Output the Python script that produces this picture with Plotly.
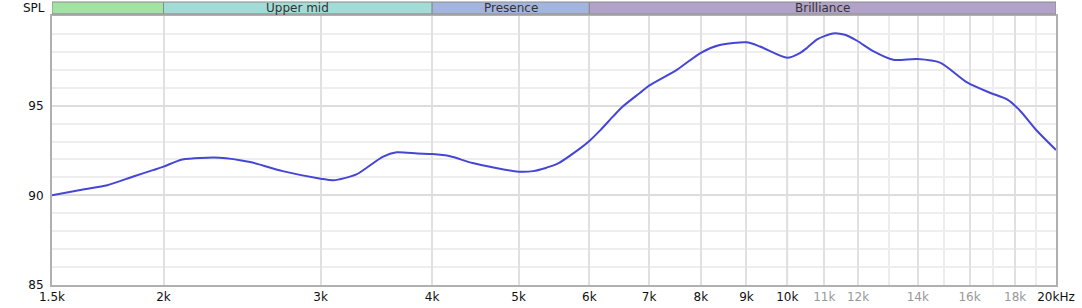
import numpy as np
import plotly.graph_objects as go

# Frequency response data (Hz, dB SPL)
freq = [1500, 1625, 1730, 1850, 1950, 2000, 2100, 2310, 2500, 2720, 3000, 3100,
        3290, 3520, 3650, 3850, 4000, 4190, 4440, 5000, 5190, 5520, 5860, 6000,
        6170, 6380, 6540, 6840, 7000, 7520, 8000, 8400, 9000, 9320, 10000, 10340,
        10520, 10800, 11250, 11600, 11970, 12480, 13140, 13980, 14830, 15900, 16870, 17630,
        18230, 19040, 20000]
spl = [90.0, 90.32, 90.56, 91.05, 91.42, 91.6, 92.0, 92.1, 91.86, 91.35, 90.93, 90.84,
       91.17, 92.15, 92.4, 92.33, 92.3, 92.18, 91.8, 91.32, 91.35, 91.75, 92.62, 93.03,
       93.62, 94.4, 94.95, 95.72, 96.12, 97.0, 97.95, 98.38, 98.53, 98.3, 97.67, 97.95,
       98.22, 98.7, 99.03, 98.95, 98.62, 98.04, 97.56, 97.6, 97.4, 96.3, 95.72, 95.35,
       94.72, 93.6, 92.53]

# Axis ticks
x_tickvals = [1500, 2000, 3000, 4000, 5000, 6000, 7000, 8000, 9000, 10000,
              11000, 12000, 14000, 16000, 18000, 20000]
x_ticktext = ["1.5k", "2k", "3k", "4k", "5k", "6k", "7k", "8k", "9k", "10k",
              "11k", "12k", "14k", "16k", "18k", "20kHz"]
x_gray_labels = ["11k", "12k", "14k", "16k", "18k"]
x_minor = [13000, 15000, 17000, 19000]
y_tickvals = [85, 90, 95]

# Frequency bands
band_names = ["", "Upper mid", "Presence", "Brilliance"]
band_lo = [1500, 2000, 4000, 6000]
band_hi = [2000, 4000, 6000, 20000]
band_colors = ["#a2e2a4", "#a3dcd6", "#a3b5de", "#b2a1c9"]

ticktext = [f"<span style='color:#999999'>{t}</span>" if t in x_gray_labels else t
            for t in x_ticktext]

fig = go.Figure()
fig.add_trace(go.Scatter(x=freq, y=spl, mode="lines",
                         line=dict(color="#4646d6", width=2, shape="spline", smoothing=0.7),
                         hoverinfo="skip", showlegend=False))

# 10k highlighted grid line
fig.add_shape(type="line", xref="x", yref="paper", x0=10000, x1=10000, y0=0, y1=1,
              line=dict(color="#bbbbbb", width=1.5), layer="below")

# Band strip
for name, lo, hi, col in zip(band_names, band_lo, band_hi, band_colors):
    fig.add_shape(type="rect", xref="x", yref="paper", x0=lo, x1=hi, y0=1.008, y1=1.052,
                  fillcolor=col, line=dict(color="#8a8a8a", width=1))
    if name:
        fig.add_annotation(xref="x", yref="paper", x=np.log10(np.sqrt(lo * hi)), y=1.030,
                           yanchor="middle", text=name, showarrow=False,
                           font=dict(family="DejaVu Sans", size=12, color="#333333"))

fig.add_annotation(xref="paper", yref="paper", x=-0.005, y=1.030, xanchor="right",
                   yanchor="middle", text="SPL", showarrow=False,
                   font=dict(family="DejaVu Sans", size=12, color="#111111"))

fig.update_layout(
    width=1082, height=308,
    margin=dict(l=52, r=26, t=16, b=23),
    paper_bgcolor="white", plot_bgcolor="white",
    font=dict(family="DejaVu Sans", size=12, color="#111111"),
    xaxis=dict(type="log", range=[np.log10(1500), np.log10(20000)],
               tickmode="array", tickvals=x_tickvals, ticktext=ticktext,
               showgrid=True, gridcolor="#e0e0e0", gridwidth=1.5,
               minor=dict(tickmode="array", tickvals=x_minor, showgrid=True,
                          gridcolor="#ececec", gridwidth=1.5),
               showline=True, linecolor="#b0b0b0", linewidth=2, mirror=True,
               ticks="", zeroline=False, fixedrange=True, automargin=False),
    yaxis=dict(range=[85, 100], tickmode="array", tickvals=y_tickvals,
               showgrid=True, gridcolor="#dddddd", gridwidth=1.5,
               minor=dict(tickmode="linear", tick0=85, dtick=1, showgrid=True,
                          gridcolor="#eeeeee", gridwidth=1.5),
               showline=True, linecolor="#b0b0b0", linewidth=2, mirror=True,
               ticks="", zeroline=False, ticklabelstandoff=4, fixedrange=True,
               automargin=False),
)

fig.write_html("out.html")
